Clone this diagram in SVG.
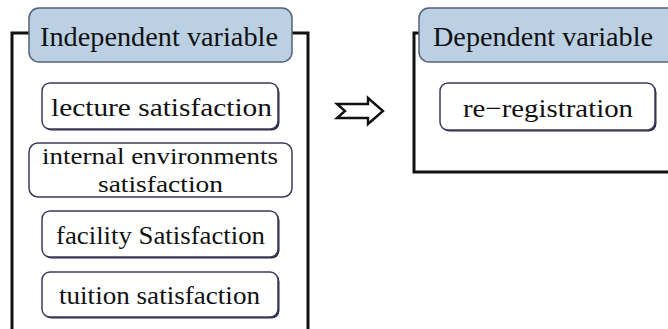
<svg xmlns="http://www.w3.org/2000/svg" width="668" height="329" viewBox="0 0 668 329">
<style>
.frame{fill:none;stroke:#111;stroke-width:3}
.hdr{fill:#bcd0e3;stroke:#55607a;stroke-width:1.5}
.box{fill:#fff;stroke:#3b3b5e;stroke-width:1.5}
.shd{fill:#2a2a40}
text{font-family:"Liberation Serif","DejaVu Serif",serif;font-size:26px;fill:#111;text-anchor:start}
.h{font-size:28px}
.s{font-size:24px}
</style>
<rect width="668" height="329" fill="#fff"/>
<g id="connectors">
<path class="frame" d="M30,33 H12 V329 M292,33 H308 V329"/>
<path class="frame" d="M420,33 H414 V172 H668"/>
<path d="M337,104 H368 V98 L383,111 L368,124 V118 H337 L345,111 Z" fill="#fff" stroke="#111" stroke-width="2.4" stroke-linejoin="miter"/>
</g>
<g id="independent">
<rect class="hdr" x="29" y="8" width="263" height="54" rx="10"/>
<text class="h" x="40" y="46" textLength="238" lengthAdjust="spacingAndGlyphs">Independent variable</text>
</g>
<g id="lecture">
<rect class="shd" x="43.5" y="84.5" width="236" height="46" rx="8"/>
<rect class="box" x="42" y="83" width="236" height="46" rx="8"/>
<text x="51" y="116" textLength="221" lengthAdjust="spacingAndGlyphs">lecture satisfaction</text>
</g>
<g id="internal">
<rect class="box" x="29" y="143" width="263" height="54" rx="9"/>
<text class="s" x="42" y="164" textLength="236" lengthAdjust="spacingAndGlyphs">internal environments</text>
<text class="s" x="98" y="192" textLength="125" lengthAdjust="spacingAndGlyphs">satisfaction</text>
</g>
<g id="facility">
<rect class="shd" x="43.5" y="212.5" width="236" height="46" rx="8"/>
<rect class="box" x="42" y="211" width="236" height="46" rx="8"/>
<text x="56" y="244" textLength="209" lengthAdjust="spacingAndGlyphs">facility Satisfaction</text>
</g>
<g id="tuition">
<rect class="shd" x="43.5" y="273.5" width="236" height="45" rx="8"/>
<rect class="box" x="42" y="272" width="236" height="45" rx="8"/>
<text x="59" y="304" textLength="201" lengthAdjust="spacingAndGlyphs">tuition satisfaction</text>
</g>
<g id="dependent">
<rect class="hdr" x="419" y="8" width="259" height="54" rx="10"/>
<text class="h" x="433" y="46" textLength="220" lengthAdjust="spacingAndGlyphs">Dependent variable</text>
</g>
<g id="reregistration">
<rect class="shd" x="441.5" y="84.5" width="215" height="47" rx="8"/>
<rect class="box" x="440" y="83" width="215" height="47" rx="8"/>
<text x="463" y="117" textLength="170" lengthAdjust="spacingAndGlyphs">re−registration</text>
</g>
</svg>
